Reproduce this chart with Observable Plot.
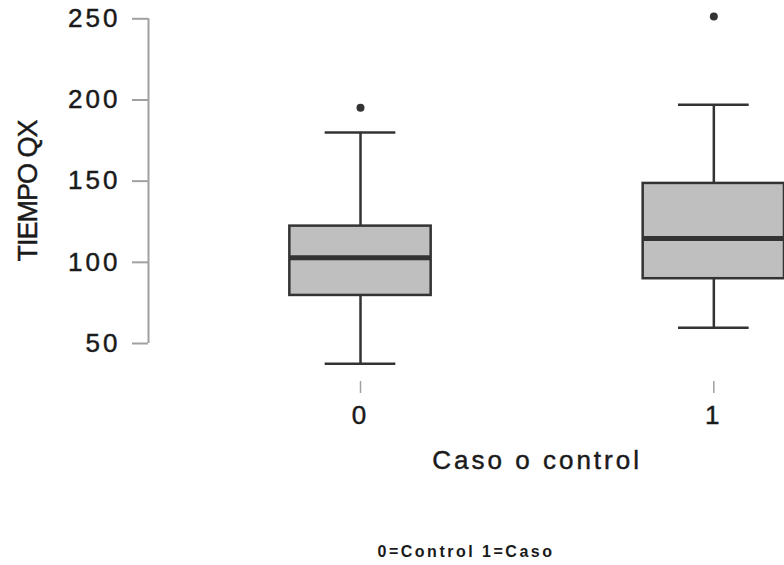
<!DOCTYPE html>
<html><head><meta charset="utf-8">
<script src="https://cdn.jsdelivr.net/npm/d3@7"></script>
<script src="https://cdn.jsdelivr.net/npm/@observablehq/plot@0.6"></script>
<style>
body{margin:0;background:#fff;}
#chart svg{display:block;}
#chart svg text{letter-spacing:3px;stroke:#1a1a1a;stroke-width:0.45px;}
#caption{margin-top:12px;margin-left:148px;width:636px;text-align:center;font:bold 16px 'Liberation Sans',Arial,sans-serif;line-height:20px;letter-spacing:2.5px;color:#1a1a1a;}
</style></head><body>
<div id="chart"></div>
<div id="caption"></div>
<script>
const groups = [0, 1];
const groupLabels = ["0", "1"];
const lowWhisker = [37.5, 59.7];
const q1 = [79.6, 89.9];
const median = [102.8, 114.7];
const q3 = [122.3, 148.6];
const highWhisker = [180, 197];
const outlierGroup = [0, 1];
const outlierValue = [195.2, 251.4];
const yTicks = [50, 100, 150, 200, 250];
const xTitle = "Caso o control";
const yTitle = "TIEMPO QX";
const captionText = "0=Control 1=Caso";

const boxes = groups.map((g, i) => ({g, lo: lowWhisker[i], q1: q1[i], med: median[i], q3: q3[i], hi: highWhisker[i]}));
const outliers = outlierGroup.map((g, i) => ({g, v: outlierValue[i]}));
const xDomain = [-0.6, 1.2];
const boxHalf = 0.2, capHalf = 0.1;
const ink = "#333333";

const plot = Plot.plot({
  width: 784, height: 530,
  marginLeft: 148, marginRight: 0, marginTop: 0, marginBottom: 149,
  style: {fontFamily: "'Liberation Sans', Arial, sans-serif", fontSize: "26px", color: "#1a1a1a", background: "#fff", overflow: "visible"},
  x: {type: "linear", domain: xDomain, label: null},
  y: {domain: [50, 250], range: [343, 18.3], label: null},
  marks: [
    Plot.ruleX([xDomain[0]], {y1: d3.min(yTicks), y2: d3.max(yTicks), stroke: "#a0a0a0", strokeWidth: 2}),
    Plot.axisY({ticks: yTicks, tickSize: 16, tickPadding: 12, stroke: "#a0a0a0", strokeWidth: 2, fill: "#1a1a1a", fontSize: 26, label: null, tickFormat: d => String(d)}),
    Plot.axisX({ticks: groups, tickSize: 12, tickPadding: 12, stroke: "#a0a0a0", strokeWidth: 1.5, fill: "#1a1a1a", fontSize: 26, label: null, tickFormat: d => groupLabels[groups.indexOf(d)]}),
    Plot.ruleX(boxes, {x: "g", y1: "q3", y2: "hi", stroke: ink, strokeWidth: 2.5}),
    Plot.ruleX(boxes, {x: "g", y1: "q1", y2: "lo", stroke: ink, strokeWidth: 2.5}),
    Plot.ruleY(boxes, {y: "hi", x1: d => d.g - capHalf, x2: d => d.g + capHalf, stroke: ink, strokeWidth: 2.5}),
    Plot.ruleY(boxes, {y: "lo", x1: d => d.g - capHalf, x2: d => d.g + capHalf, stroke: ink, strokeWidth: 2.5}),
    Plot.rect(boxes, {x1: d => d.g - boxHalf, x2: d => d.g + boxHalf, y1: "q1", y2: "q3", fill: "#bfbfbf", stroke: ink, strokeWidth: 2.5}),
    Plot.ruleY(boxes, {y: "med", x1: d => d.g - boxHalf, x2: d => d.g + boxHalf, stroke: ink, strokeWidth: 5}),
    Plot.dot(outliers, {x: "g", y: "v", r: 4, fill: ink, stroke: "none"}),
    Plot.text([yTitle], {text: d => d, frameAnchor: "left", textAnchor: "middle", lineAnchor: "middle", rotate: -90, dx: -120.5, fontSize: 27, fill: "#1a1a1a"}),
    Plot.text([xTitle], {text: d => d, x: d3.mean(groups), frameAnchor: "bottom", textAnchor: "middle", lineAnchor: "middle", dy: 79, fontSize: 26, fill: "#1a1a1a"})
  ]
});
document.getElementById("chart").appendChild(plot);
d3.select(plot).selectAll("text").filter(function() { return this.textContent === yTitle; }).style("letter-spacing", "-1px");
document.getElementById("caption").textContent = captionText;
</script>
</body></html>
